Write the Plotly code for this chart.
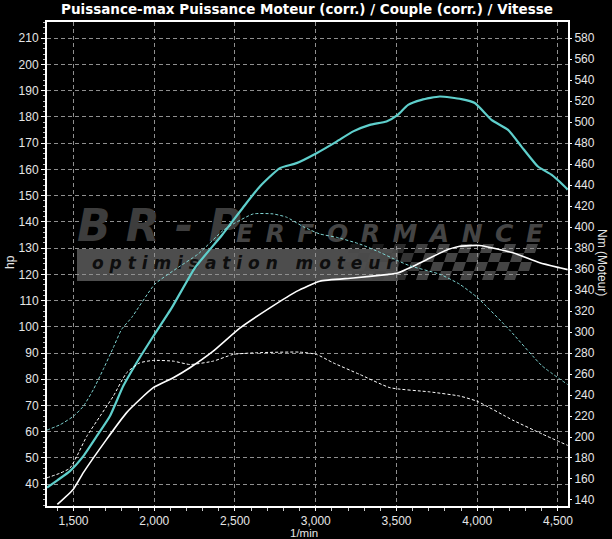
import plotly.graph_objects as go

# ---------------- data ----------------
rpm_tuned_power = [1336, 1400, 1478, 1561, 1644, 1726, 1808, 1891, 1994, 2108, 2252, 2420,
                   2550, 2654, 2778, 2881, 3005, 3129, 3232, 3335, 3438, 3508, 3572, 3655,
                   3768, 3902, 3985, 4088, 4191, 4274, 4376, 4459, 4541, 4560]
hp_tuned = [38.7, 41.5, 45.0, 50.7, 58.3, 66.0, 77.4, 86.3, 96.4, 107.2, 122.5, 135.0,
            145.5, 153.5, 160.5, 162.4, 166.2, 170.6, 174.5, 177.0, 178.3, 180.8, 184.6, 186.5,
            187.8, 186.8, 185.3, 178.9, 175.1, 168.7, 161.1, 158.0, 153.5, 152.3]

rpm_stock_power = [1400, 1499, 1561, 1705, 1829, 1911, 1994, 2118, 2221, 2365, 2530, 2716,
                   2881, 3025, 3232, 3438, 3508, 3600, 3686, 3800, 3892, 4015, 4221, 4387,
                   4511, 4560]
hp_stock = [32.3, 38.1, 44.4, 57.1, 67.3, 72.3, 76.8, 80.6, 84.4, 90.7, 99.5, 107.2,
            113.5, 117.4, 118.6, 119.9, 120.5, 123.0, 125.6, 129.0, 130.7, 131.0, 128.2, 124.4,
            122.5, 121.8]

rpm_tuned_torque = [1336, 1418, 1499, 1561, 1623, 1684, 1746, 1798, 1860, 2004, 2148, 2272,
                    2425, 2489, 2613, 2736, 2819, 2922, 3025, 3129, 3273, 3397, 3508, 3582,
                    3770, 3890, 4000, 4200, 4400, 4560]
nm_tuned = [206.6, 211.8, 219.7, 229.3, 245.2, 264.4, 285.0, 302.6, 313.8, 345.7, 361.6, 374.4,
            396.7, 403.0, 412.6, 412.6, 409.5, 400.5, 393.5, 390.3, 383.9, 376.0, 368.0, 363.2,
            355.0, 345.7, 333.0, 302.0, 268.0, 250.0]

rpm_stock_torque = [1336, 1418, 1478, 1520, 1582, 1664, 1746, 1829, 1911, 1994, 2118, 2221,
                    2365, 2489, 2634, 2902, 3005, 3108, 3273, 3460, 3706, 3892, 4000, 4221,
                    4400, 4560]
nm_stock = [161.1, 165.6, 170.3, 181.4, 200.6, 219.7, 238.8, 261.2, 270.7, 273.0, 272.3, 269.1,
            272.3, 278.7, 280.3, 280.9, 278.7, 270.7, 259.6, 247.0, 243.0, 239.0, 234.0, 216.0,
            203.0, 192.0]

x_ticks = [1500, 2000, 2500, 3000, 3500, 4000, 4500]
hp_ticks = list(range(40, 211, 10))
nm_ticks = list(range(140, 581, 20))

title_text = "Puissance-max Puissance Moteur (corr.) / Couple (corr.) / Vitesse"

# ---------------- layout geometry ----------------
W, H = 612, 539
PL, PR, PT, PB = 47, 568, 22, 506      # plot area in pixels
X_RANGE = [1336, 4562]
HP_RANGE = [31.7, 216.2]
NM_RANGE = [2.5 * HP_RANGE[0] + 55, 2.5 * HP_RANGE[1] + 55]


def px(x):
    return (x - PL) / (PR - PL)


def py(y):
    return (PB - y) / (PB - PT)


def to_data(xp, yp):
    rx = X_RANGE[0] + (xp - PL) / (PR - PL) * (X_RANGE[1] - X_RANGE[0])
    ry = HP_RANGE[1] - (yp - PT) / (PB - PT) * (HP_RANGE[1] - HP_RANGE[0])
    return rx, ry


fig = go.Figure()

# ---------------- watermark (drawn first, below the curves) ----------------
sp = "\u2002"
wm_items = [
    ("B R - P", 77, 230, 44, "#3d3d3d"),
    (sp.join("ERFORMANCE"), 236, 236, 25, "#444444"),
    ("o p t i m i s a t i o n   m o t e u r", 92, 265, 17, "#0e0e0e"),
]
for txt, xp_, yp_, size, col in wm_items:
    dx, dy = to_data(xp_, yp_)
    fig.add_trace(go.Scatter(
        x=[dx], y=[dy], mode="text", text=[txt], textposition="middle right",
        textfont=dict(family="DejaVu Sans", size=size, color=col, weight="bold", style="italic"),
        hoverinfo="skip", showlegend=False, cliponaxis=False))

shapes = []
# grey banner
shapes.append(dict(type="rect", xref="paper", yref="paper", layer="below",
                   x0=px(77), x1=px(398), y0=py(281), y1=py(249),
                   fillcolor="#4d4d4d", line=dict(width=0)))
# checkered flag
sq = 11
for r in range(4):
    for c in range(17):
        if (r + c) % 2:
            continue
        x0 = 348 + c * sq - r * 3
        y0 = 244 + r * 9
        if x0 > 530:
            continue
        op = min(1.0, max(0.3, (x0 - 340) / 80))
        path = "M {},{} L {},{} L {},{} L {},{} Z".format(
            px(x0 + 3), py(y0), px(x0 + sq + 3), py(y0), px(x0 + sq), py(y0 + 9), px(x0), py(y0 + 9))
        shapes.append(dict(type="path", xref="paper", yref="paper", layer="below",
                           path=path, fillcolor="#444444", opacity=op, line=dict(width=0)))

# ---------------- curves ----------------
fig.add_trace(go.Scatter(x=rpm_stock_power, y=hp_stock, mode="lines",
                         line=dict(color="#ffffff", width=1.6, shape="spline", smoothing=0.5),
                         name="Puissance série", yaxis="y"))
fig.add_trace(go.Scatter(x=rpm_tuned_power, y=hp_tuned, mode="lines",
                         line=dict(color="#5fcfcc", width=2.2, shape="spline", smoothing=0.5),
                         name="Puissance", yaxis="y"))
fig.add_trace(go.Scatter(x=rpm_stock_torque, y=nm_stock, mode="lines",
                         line=dict(color="#ffffff", width=1, dash="3px,2px", shape="spline", smoothing=0.5),
                         name="Couple série", yaxis="y2"))
fig.add_trace(go.Scatter(x=rpm_tuned_torque, y=nm_tuned, mode="lines",
                         line=dict(color="#7fd4d2", width=1, dash="3px,2px", shape="spline", smoothing=0.5),
                         name="Couple", yaxis="y2"))

tick_font = dict(family="Liberation Sans", size=12, color="#e6e6e6")
grid = dict(showgrid=True, gridcolor="#8f8f8f", gridwidth=1, griddash="4px,3px")

fig.update_layout(
    width=W, height=H, autosize=False,
    margin=dict(l=PL, r=W - PR, t=PT, b=H - PB, pad=0, autoexpand=False),
    paper_bgcolor="#000000", plot_bgcolor="#000000",
    showlegend=False,
    xaxis=dict(range=X_RANGE, tickvals=x_ticks, tickformat=",d", tickfont=tick_font,
               ticks="outside", ticklen=3, tickcolor="#ffffff",
               minor=dict(dtick=100, tick0=1500, ticks="outside", ticklen=3, tickcolor="#cccccc", showgrid=False),
               showline=True, linecolor="#ffffff", linewidth=2, mirror=True,
               zeroline=False, **grid),
    yaxis=dict(range=HP_RANGE, tickvals=hp_ticks, tickfont=tick_font,
               ticks="outside", ticklen=4, tickcolor="#ffffff",
               minor=dict(dtick=2, tick0=40, ticks="outside", ticklen=2, tickcolor="#bbbbbb", showgrid=False),
               showline=True, linecolor="#ffffff", linewidth=2, mirror=True,
               zeroline=False, **grid),
    yaxis2=dict(range=NM_RANGE, tickvals=nm_ticks, tickfont=tick_font, overlaying="y", side="right",
                ticks="outside", ticklen=3, tickcolor="#ffffff", showgrid=False, zeroline=False,
                showline=False),
    shapes=shapes,
    annotations=[
        dict(text="<b>" + title_text + "</b>", xref="paper", yref="paper", x=px(307), y=py(9),
             xanchor="center", yanchor="middle", showarrow=False,
             font=dict(family="DejaVu Sans", size=13.5, color="#ffffff")),
        dict(text="hp", xref="paper", yref="paper", x=px(10), y=py(262), textangle=-90,
             xanchor="center", yanchor="middle", showarrow=False,
             font=dict(family="Liberation Sans", size=12, color="#e6e6e6")),
        dict(text="Nm (Moteur)", xref="paper", yref="paper", x=px(602), y=py(262), textangle=90,
             xanchor="center", yanchor="middle", showarrow=False,
             font=dict(family="Liberation Sans", size=12, color="#e6e6e6")),
        dict(text="1/min", xref="paper", yref="paper", x=px(304), y=py(533),
             xanchor="center", yanchor="middle", showarrow=False,
             font=dict(family="Liberation Sans", size=11.5, color="#e6e6e6")),
    ],
)

fig.write_html(
    "out.html",
    config={"displayModeBar": False},
    post_script="document.body.style.margin='0';document.body.style.padding='0';"
                "document.body.style.background='#000';document.documentElement.style.background='#000';",
)
